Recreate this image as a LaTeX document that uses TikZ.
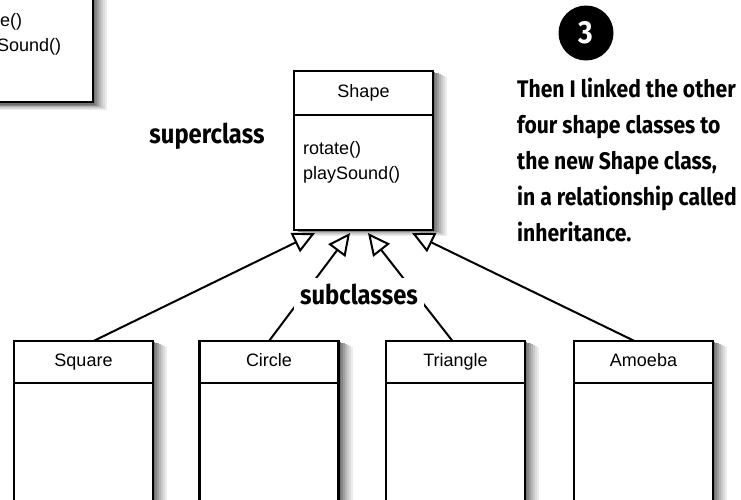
\documentclass[tikz,border=0pt]{standalone}
\usepackage{fontspec}
\setsansfont{Liberation Sans}
\newfontfamily\handfont{Fira Sans}[FakeStretch=0.88]
\usetikzlibrary{arrows.meta, positioning, calc}

\begin{document}
\begin{tikzpicture}[
  x=1pt, y=-1pt,
  cls/.style={rectangle, draw=black, line width=2.2pt, fill=white,
              minimum width=139pt, inner sep=0pt, outer sep=0pt,
              text height=13pt, text depth=4pt,
              font=\sffamily\fontsize{18}{21}\selectfont},
  ttl/.style={cls, minimum height=44pt},
  subttl/.style={cls, minimum height=42pt},
  body/.style={cls, minimum height=115pt},
  subbody/.style={cls, minimum height=140pt},
  ops/.style={font=\sffamily\fontsize{18}{25}\selectfont, align=left,
              inner sep=0pt, anchor=north west},
  hand/.style={font=\handfont\bfseries\fontsize{24}{36}\selectfont, inner sep=0pt},
  tag/.style={hand, font=\handfont\bfseries\fontsize{27}{30}\selectfont},
  inh/.style={line width=2pt, -{Triangle[length=22pt, width=21pt, fill=white]}}
]
\useasboundingbox (0,0) rectangle (741,499);
\clip (0,0) rectangle (741,499);
\fill[white] (0,0) rectangle (741,499);

% ── Soft shadows behind the boxes ──
\foreach \xa/\ya/\xb/\yb in {-46/-13/93/104, 294/71/433/230, 14/341/153/600,
                             199.5/341/338.5/600, 386/341/525/600, 574/341/713/600}
  \foreach \sh/\gr in {14/8, 12/14, 10/21, 8/29, 6/38, 4/47, 2/56}
    \fill[black!\gr] (\xa+\sh, \ya+0.4*\sh) rectangle (\xb+\sh, \yb+0.4*\sh);

% ── Old class box, cut by the page ──
\node[body, anchor=north west] (oldb) at (-46,-13) {};
\node[ops] (oldops) at ($(oldb.north west)+(10,26)$) {rotate()\\playSound()};

% ── Superclass ──
\node[ttl] (shape) at (363.5,93) {Shape};
\node[body, below=0pt of shape] (shapeb) {};
\node[ops] (shapeops) at ($(shapeb.north west)+(9,26)$) {rotate()\\playSound()};

% ── Subclasses ──
\node[subttl] (sq) at (83.5,362)  {Square};
\node[subbody, below=0pt of sq] (sqb) {};
\node[subttl] (ci) at (269,362)   {Circle};
\node[subbody, below=0pt of ci] (cib) {};
\node[subttl] (tr) at (455.5,362) {Triangle};
\node[subbody, below=0pt of tr] (trb) {};
\node[subttl] (am) at (643.5,362) {Amoeba};
\node[subbody, below=0pt of am] (amb) {};

% ── Inheritance arrows ──
\coordinate (t1) at ($(shapeb.south)+(-48.5,3)$);
\coordinate (t2) at ($(shapeb.south)+(-13.5,3)$);
\coordinate (t3) at ($(shapeb.south)+(4.5,3)$);
\coordinate (t4) at ($(shapeb.south)+(48.5,3)$);
\draw[inh] ([xshift=10pt]sq.north) -- (t1);
\draw[inh] (ci.north) -- (t2);
\draw[inh] ([xshift=-3pt]tr.north) -- (t3);
\draw[inh] ([xshift=-9pt]am.north) -- (t4);

% ── Labels ──
\node[tag, fill=white, inner sep=6pt] (sublbl) at (359,294) {subclasses};
\node[tag] (suplbl) at (207,136) {superclass};
\node[circle, fill=black, minimum size=55pt, inner sep=0pt, text=white,
      font=\handfont\bfseries\fontsize{32}{32}\selectfont] (step3) at (586,33) {3};
\node[hand, anchor=north west, align=left] (note) at (517,78)
  {Then I linked the other\\four shape classes to\\the new Shape class,\\in a relationship called\\inheritance.};
\end{tikzpicture}
\end{document}
